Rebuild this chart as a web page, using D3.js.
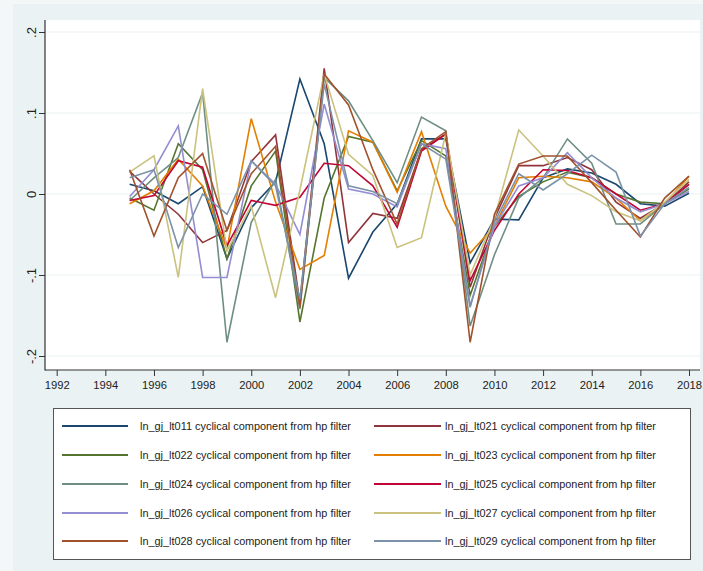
<!DOCTYPE html>
<html>
<head>
<meta charset="utf-8">
<script src="https://cdn.jsdelivr.net/npm/d3@7"></script>
<style>
  html, body { margin: 0; padding: 0; background: #f4f7f8; }
  svg { display: block; font-family: "Liberation Sans", Arial, sans-serif; }
</style>
</head>
<body>
<svg id="chart" width="703" height="571"></svg>
<script>
// Years of the cyclical components
const years = d3.range(1995, 2019);

// Series names
const seriesNames = [
  "ln_gj_lt011", "ln_gj_lt021", "ln_gj_lt022", "ln_gj_lt023", "ln_gj_lt024",
  "ln_gj_lt025", "ln_gj_lt026", "ln_gj_lt027", "ln_gj_lt028", "ln_gj_lt029"
];

// Series colours (Stata s2color order)
const seriesColors = [
  "#1a476f", "#90353b", "#55752f", "#e37e00", "#6e8e84",
  "#c10534", "#938dd2", "#cac27e", "#a0522d", "#7b92a8"
];

// Cyclical component values, 1995–2018
const lt011 = [0.012, 0.004, -0.012, 0.009, -0.080, -0.017, 0.015, 0.142, 0.062, -0.104, -0.047, -0.012, 0.068, 0.068, -0.085, -0.031, -0.032, 0.020, 0.031, 0.026, 0.012, -0.012, -0.015, 0.001];
const lt021 = [0.028, 0.000, -0.025, -0.060, -0.045, 0.040, 0.073, -0.135, 0.155, -0.060, -0.024, -0.030, 0.055, 0.074, -0.115, -0.030, 0.035, 0.035, 0.045, 0.030, -0.010, -0.030, -0.012, 0.015];
const lt022 = [-0.005, -0.020, 0.062, 0.030, -0.080, 0.010, 0.053, -0.158, -0.005, 0.071, 0.064, 0.004, 0.066, 0.047, -0.125, -0.040, -0.003, 0.015, 0.027, 0.020, 0.000, -0.010, -0.012, 0.006];
const lt023 = [-0.012, 0.004, 0.043, 0.010, -0.068, 0.093, -0.010, -0.093, -0.076, 0.078, 0.064, 0.002, 0.077, -0.015, -0.073, -0.040, 0.020, 0.022, 0.020, 0.015, -0.005, -0.033, -0.012, 0.022];
const lt024 = [-0.008, 0.020, 0.045, 0.125, -0.183, -0.035, 0.018, -0.142, 0.144, 0.115, 0.066, 0.014, 0.095, 0.078, -0.163, -0.075, -0.005, 0.020, 0.068, 0.038, -0.037, -0.037, -0.012, 0.012];
const lt025 = [-0.008, -0.002, 0.041, 0.033, -0.064, -0.008, -0.014, -0.004, 0.038, 0.035, 0.010, -0.041, 0.053, 0.074, -0.107, -0.045, 0.000, 0.030, 0.029, 0.020, 0.000, -0.020, -0.012, 0.012];
const lt026 = [-0.003, 0.030, 0.084, -0.103, -0.103, 0.041, 0.012, -0.050, 0.111, 0.006, 0.000, -0.016, 0.062, 0.056, -0.138, -0.040, 0.010, 0.020, 0.051, 0.020, -0.005, -0.022, -0.012, 0.003];
const lt027 = [0.027, 0.047, -0.103, 0.130, -0.070, -0.015, -0.128, 0.005, 0.148, 0.049, 0.023, -0.066, -0.054, 0.075, -0.100, -0.030, 0.079, 0.047, 0.012, -0.002, -0.022, -0.033, -0.010, 0.018];
const lt028 = [0.030, -0.052, 0.020, 0.050, -0.045, 0.025, 0.059, -0.140, 0.148, 0.110, 0.030, -0.037, 0.056, 0.077, -0.183, -0.025, 0.037, 0.047, 0.047, 0.014, -0.020, -0.053, -0.005, 0.022];
const lt029 = [0.020, 0.030, -0.066, 0.000, -0.025, 0.041, 0.010, -0.130, 0.136, 0.010, 0.003, -0.012, 0.062, 0.043, -0.140, -0.035, 0.025, 0.005, 0.025, 0.048, 0.027, -0.052, -0.012, 0.008];

const seriesValues = [lt011, lt021, lt022, lt023, lt024, lt025, lt026, lt027, lt028, lt029];

// Axis ticks
const xTicks = d3.range(1992, 2019, 2);
const yTicks = [-0.2, -0.1, 0, 0.1, 0.2];
const yTickLabels = ["-.2", "-.1", "0", ".1", ".2"];

const legendSuffix = " cyclical component from hp filter";

const svg = d3.select("#chart");

// Graph background
svg.append("rect").attr("x", 13).attr("y", 4).attr("width", 690).attr("height", 567)
  .attr("fill", "#eaf2f3");

const plot = { left: 45, right: 700, top: 20, bottom: 370 };

const x = d3.scaleLinear().domain([1992, 2018]).range([56.7, 689]);
const y = d3.scaleLinear().domain([-0.2, 0.2]).range([356, 32]);

// Plot region
svg.append("rect")
  .attr("x", plot.left).attr("y", plot.top)
  .attr("width", plot.right - plot.left).attr("height", plot.bottom - plot.top)
  .attr("fill", "#ffffff");

// Horizontal grid lines
svg.append("g").selectAll("line").data(yTicks).join("line")
  .attr("x1", plot.left).attr("x2", plot.right)
  .attr("y1", d => y(d)).attr("y2", d => y(d))
  .attr("stroke", "#eaf2f3").attr("stroke-width", 1.2);

// Series lines
const line = d3.line().x((d, i) => x(years[i])).y(d => y(d));
svg.append("g").selectAll("path").data(seriesValues).join("path")
  .attr("d", d => line(d))
  .attr("fill", "none")
  .attr("stroke", (d, i) => seriesColors[i])
  .attr("stroke-width", 1.6)
  .attr("stroke-linejoin", "miter");

// Axes
const xAxis = svg.append("g").attr("transform", `translate(0,${plot.bottom})`)
  .call(d3.axisBottom(x).tickValues(xTicks).tickFormat(d3.format("d")).tickSize(6).tickPadding(5));
xAxis.select(".domain").remove();
xAxis.selectAll(".tick line").attr("stroke", "#333");
xAxis.selectAll(".tick text")
  .attr("font-size", 11.5).attr("fill", "#222")
  .attr("textLength", 25).attr("lengthAdjust", "spacingAndGlyphs");

const yAxis = svg.append("g").attr("transform", `translate(${plot.left},0)`)
  .call(d3.axisLeft(y).tickValues(yTicks).tickFormat((d, i) => yTickLabels[i]).tickSize(6).tickPadding(0));
yAxis.select(".domain").remove();
yAxis.selectAll(".tick line").attr("stroke", "#333");
yAxis.selectAll(".tick text")
  .attr("font-size", 13).attr("fill", "#222")
  .attr("text-anchor", "middle")
  .attr("x", null)
  .attr("transform", "translate(-14,0) rotate(-90)")
  .attr("dy", "0.35em");

svg.append("line").attr("x1", plot.left).attr("x2", plot.left)
  .attr("y1", plot.top).attr("y2", plot.bottom + 0.5)
  .attr("stroke", "#333").attr("stroke-width", 1.2);
svg.append("line").attr("x1", plot.left).attr("x2", plot.right)
  .attr("y1", plot.bottom).attr("y2", plot.bottom)
  .attr("stroke", "#333").attr("stroke-width", 1.2);

// Legend
const legend = svg.append("g");
legend.append("rect")
  .attr("x", 53.5).attr("y", 408.5).attr("width", 637).attr("height", 151)
  .attr("fill", "#ffffff").attr("stroke", "#555").attr("stroke-width", 1);

const colLine = [[62, 128], [374, 441]];
const colText = [140, 445];
const rowY = [426, 455, 484, 513, 541];

const items = legend.selectAll("g.item").data(seriesNames).join("g").attr("class", "item")
  .attr("transform", (d, i) => `translate(0,${rowY[Math.floor(i / 2)]})`);
items.append("line")
  .attr("x1", (d, i) => colLine[i % 2][0]).attr("x2", (d, i) => colLine[i % 2][1])
  .attr("stroke", (d, i) => seriesColors[i]).attr("stroke-width", 2);
items.append("text")
  .attr("x", (d, i) => colText[i % 2]).attr("dy", "0.35em")
  .attr("font-size", 11.5).attr("fill", "#222")
  .attr("textLength", 211).attr("lengthAdjust", "spacingAndGlyphs")
  .text(d => d + legendSuffix);
</script>
</body>
</html>
